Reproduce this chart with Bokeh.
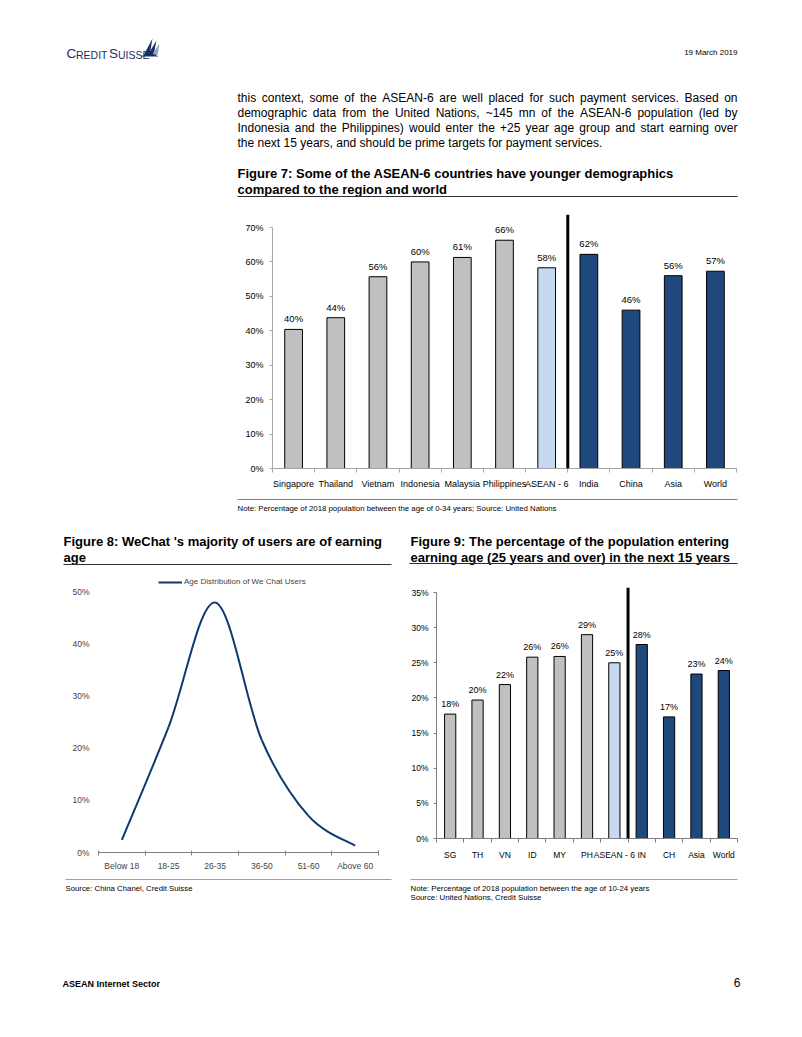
from bokeh.plotting import figure
from bokeh.models import (Range1d, FixedTicker, ColumnDataSource, NumeralTickFormatter,
                          Span, Legend, LegendItem)
from bokeh.layouts import column, row
from bokeh.embed import file_html
from bokeh.resources import INLINE
from bokeh.core.properties import value

# ---------------- data ----------------
fig7_categories = ["Singapore", "Thailand", "Vietnam", "Indonesia", "Malaysia", "Philippines",
                   "ASEAN - 6", "India", "China", "Asia", "World"]
fig7_values = [0.404, 0.438, 0.557, 0.600, 0.613, 0.663, 0.583, 0.622, 0.460, 0.560, 0.573]
fig7_groups = ["asean"] * 6 + ["asean6"] + ["other"] * 4
fig7_yticks = [0.0, 0.1, 0.2, 0.3, 0.4, 0.5, 0.6, 0.7]

fig8_categories = ["Below 18", "18-25", "26-35", "36-50", "51-60", "Above 60"]
fig8_values = [0.024, 0.240, 0.479, 0.215, 0.070, 0.013]
fig8_yticks = [0.0, 0.1, 0.2, 0.3, 0.4, 0.5]
fig8_series = "Age Distribution of We Chat Users"

fig9_categories = ["SG", "TH", "VN", "ID", "MY", "PH", "ASEAN - 6", "IN", "CH", "Asia", "World"]
fig9_values = [0.177, 0.197, 0.219, 0.258, 0.259, 0.290, 0.250, 0.276, 0.173, 0.234, 0.239]
fig9_groups = ["asean"] * 6 + ["asean6"] + ["other"] * 4
fig9_yticks = [0.0, 0.05, 0.10, 0.15, 0.20, 0.25, 0.30, 0.35]

paragraph = [
    "this context, some of the ASEAN-6 are well placed for such payment services. Based on",
    "demographic data from the United Nations, ~145 mn of the ASEAN-6 population (led by",
    "Indonesia and the Philippines) would enter the +25 year age group and start earning over",
    "the next 15 years, and should be prime targets for payment services.",
]
fig7_title = ["Figure 7: Some of the ASEAN-6 countries have younger demographics",
              "compared to the region and world"]
fig7_note = "Note: Percentage of 2018 population between the age of 0-34 years; Source: United Nations"
fig8_title = ["Figure 8: WeChat 's majority of users are of earning", "age"]
fig8_note = "Source: China Chanel, Credit Suisse"
fig9_title = ["Figure 9: The percentage of the population entering",
              "earning age (25 years and over) in the next 15 years"]
fig9_note = ["Note: Percentage of 2018 population between the age of 10-24 years",
             "Source: United Nations, Credit Suisse"]

# ---------------- style ----------------
FONT = "Liberation Sans"
GROUP_COLORS = {"asean": "#C0C0C0", "asean6": "#C6D9F1", "other": "#1F497D"}
LINE_NAVY = "#0E3A6C"
LOGO_NAVY = "#1B2F5E"
PAGE_W = 786

# Arial / Liberation Sans advance widths (1/1000 em) used for justifying the paragraph
_W = {' ': 278, '!': 278, '"': 355, '#': 556, '$': 556, '%': 889, '&': 667, "'": 191, '(': 333,
      ')': 333, '*': 389, '+': 584, ',': 278, '-': 333, '.': 278, '/': 278, ':': 278, ';': 278,
      '?': 556, '~': 584, 'A': 667, 'B': 667, 'C': 722, 'D': 722, 'E': 667, 'F': 611, 'G': 778,
      'H': 722, 'I': 278, 'J': 500, 'K': 667, 'L': 556, 'M': 833, 'N': 722, 'O': 778, 'P': 667,
      'Q': 778, 'R': 722, 'S': 667, 'T': 611, 'U': 722, 'V': 667, 'W': 944, 'X': 667, 'Y': 667,
      'Z': 611, 'a': 556, 'b': 556, 'c': 500, 'd': 556, 'e': 556, 'f': 278, 'g': 556, 'h': 556,
      'i': 222, 'j': 222, 'k': 500, 'l': 222, 'm': 833, 'n': 556, 'o': 556, 'p': 556, 'q': 556,
      'r': 333, 's': 500, 't': 278, 'u': 556, 'v': 500, 'w': 722, 'x': 500, 'y': 500, 'z': 500}


def text_width(s, size):
    return sum(_W.get(ch, 556) for ch in s) / 1000.0 * size


def page_panel(y0, y1):
    p = figure(width=PAGE_W, height=y1 - y0, x_range=Range1d(0, PAGE_W),
               y_range=Range1d(y1, y0), x_axis_location=None, y_axis_location=None,
               toolbar_location=None, output_backend="svg", min_border=0)
    p.grid.visible = False
    p.outline_line_color = None
    return p


def txt(p, x, y, s, size, bold=False, align="left", color="black", font=FONT):
    p.text(x=[x], y=[y], text=[s], text_font=value(font), text_font_size=f"{size}px",
           text_font_style="bold" if bold else "normal", text_align=align,
           text_baseline="middle", text_color=color)


def justified(p, x0, x1, y, s, size):
    words = s.split(" ")
    widths = [text_width(w, size) for w in words]
    gap = (x1 - x0 - sum(widths)) / (len(words) - 1)
    xs, x = [], x0
    for w in widths:
        xs.append(x)
        x += w + gap
    p.text(x=xs, y=[y] * len(words), text=words, text_font=value(FONT),
           text_font_size=f"{size}px", text_align="left", text_baseline="middle",
           text_color="black")


def hline(p, x0, x1, y, color="#404040", width=1.0):
    p.segment(x0=[x0], y0=[y], x1=[x1], y1=[y], line_color=color, line_width=width)


def pct_labels(vals):
    return [f"{round(v * 100)}%" for v in vals]


# ---------------- row A: header + paragraph + fig7 title ----------------
A0, A1 = 0, 205
pA = page_panel(A0, A1)
txt(pA, 66, 53, "C", 13.5, color=LOGO_NAVY)
txt(pA, 75.5, 54, "REDIT", 10.5, color=LOGO_NAVY)
txt(pA, 108.5, 53, "S", 13.5, color=LOGO_NAVY)
txt(pA, 117.5, 54, "UISSE", 10.5, color=LOGO_NAVY)
pA.patches(xs=[[143, 152, 149], [147, 156, 153], [151, 159, 157], [140, 158, 150]],
           ys=[[55, 38, 55], [55, 40, 55], [55, 43, 55], [56, 56, 52]],
           fill_color=[LOGO_NAVY, LOGO_NAVY, "#8FA6C9", LOGO_NAVY], line_color=None)
txt(pA, 737, 52, "19 March 2019", 8, align="right")
PARA_SIZE = 12
for i, line in enumerate(paragraph):
    if i < len(paragraph) - 1:
        justified(pA, 237, 737, 97 + 15 * i, line, PARA_SIZE)
    else:
        txt(pA, 237, 97 + 15 * i, line, PARA_SIZE)
for i, line in enumerate(fig7_title):
    txt(pA, 237, 173 + 16 * i, line, 13, bold=True)
hline(pA, 237, 737, 196, color="#303030", width=1.2)


# ---------------- bar chart helper ----------------
def bar_chart(cats, vals, groups, yticks, width, height, borders, y_top_px, y_max_px, y_zero_px,
              font_size, label_size, axis_color, bar_width, divider_after, std_x, std_y):
    left, right, top, bottom = borders
    n = len(cats)
    centers = [i + 0.5 for i in range(n)]
    y_end = yticks[-1] * (y_zero_px - y_top_px) / (y_zero_px - y_max_px)
    p = figure(width=width, height=height, x_range=Range1d(0, n), y_range=Range1d(0, y_end),
               toolbar_location=None, output_backend="svg",
               min_border_left=left, min_border_right=right,
               min_border_top=top, min_border_bottom=bottom)
    p.grid.visible = False
    p.outline_line_color = None
    src = ColumnDataSource(dict(x=centers, top=vals, color=[GROUP_COLORS[g] for g in groups],
                                label=pct_labels(vals)))
    p.vbar(x="x", top="top", width=bar_width, fill_color="color", line_color="black",
           line_width=1, source=src)
    p.text(x="x", y="top", text="label", source=src, text_align="center",
           text_baseline="bottom", y_offset=-5, text_font=value(FONT),
           text_font_size=f"{label_size}px", text_color="black")
    p.add_layout(Span(location=cats.index(divider_after) + 1, dimension="height",
                      line_color="black", line_width=3))
    xa = p.xaxis[0]
    xa.ticker = FixedTicker(ticks=centers, minor_ticks=list(range(n + 1)))
    xa.major_label_overrides = {c: name for c, name in zip(centers, cats)}
    xa.major_tick_line_color = None
    xa.major_tick_out = 0
    xa.major_tick_in = 0
    xa.minor_tick_out = 4
    xa.minor_tick_in = 0
    xa.minor_tick_line_color = axis_color
    xa.axis_line_color = axis_color
    xa.major_label_standoff = std_x
    xa.major_label_text_font = FONT
    xa.major_label_text_font_size = f"{font_size}px"
    xa.major_label_text_color = "black"
    ya = p.yaxis[0]
    ya.ticker = FixedTicker(ticks=yticks, minor_ticks=[])
    ya.formatter = NumeralTickFormatter(format="0%")
    ya.bounds = (0, yticks[-1])
    ya.axis_line_color = axis_color
    ya.major_tick_line_color = axis_color
    ya.major_tick_out = 3
    ya.major_tick_in = 0
    ya.major_label_standoff = std_y
    ya.major_label_text_font = FONT
    ya.major_label_text_font_size = f"{font_size}px"
    ya.major_label_text_color = "black"
    return p


# ---------------- row B: figure 7 ----------------
B0, B1 = A1, 493
f7_left, f7_right, f7_top, f7_bottom, f7_max = 272, 736, 214, 468, 227
p7 = bar_chart(fig7_categories, fig7_values, fig7_groups, fig7_yticks, PAGE_W, B1 - B0,
               (f7_left, PAGE_W - f7_right, f7_top - B0, B1 - f7_bottom),
               f7_top, f7_max, f7_bottom, 9, 9.5, "#A6A6A6", 0.42, "ASEAN - 6", 6, 6)

# ---------------- row C: fig7 note + fig8/9 titles ----------------
C0, C1 = B1, 570
pC = page_panel(C0, C1)
hline(pC, 237, 737, 499, color="#7F7F7F", width=1)
txt(pC, 237, 507.5, fig7_note, 7.8)
for i, line in enumerate(fig8_title):
    txt(pC, 63, 541 + 15.5 * i, line, 13, bold=True)
for i, line in enumerate(fig9_title):
    txt(pC, 410, 541 + 15.5 * i, line, 13, bold=True)
hline(pC, 63, 391, 564, color="#303030", width=1.2)
hline(pC, 409, 737, 563, color="#303030", width=1.2)

# ---------------- row D: figures 8 and 9 ----------------
D0, D1 = C1, 875
W8 = 400
f8_left, f8_right, f8_top, f8_bottom, f8_max = 98, 378, 572, 852, 591
n8 = len(fig8_categories)
c8 = [i + 0.5 for i in range(n8)]
p8 = figure(width=W8, height=D1 - D0, x_range=Range1d(0, n8),
            y_range=Range1d(0, fig8_yticks[-1] * (f8_bottom - f8_top) / (f8_bottom - f8_max)),
            toolbar_location=None, output_backend="svg",
            min_border_left=f8_left, min_border_right=W8 - f8_right,
            min_border_top=f8_top - D0, min_border_bottom=D1 - f8_bottom)
p8.grid.visible = False
p8.outline_line_color = None
# smoothed line (Excel style): cubic Bezier segments through the data points
pts = list(zip(c8, fig8_values))
seg = dict(x0=[], y0=[], x1=[], y1=[], cx0=[], cy0=[], cx1=[], cy1=[])
for i in range(len(pts) - 1):
    q0 = pts[max(i - 1, 0)]
    q1 = pts[i]
    q2 = pts[i + 1]
    q3 = pts[min(i + 2, len(pts) - 1)]
    seg["x0"].append(q1[0]); seg["y0"].append(q1[1])
    seg["x1"].append(q2[0]); seg["y1"].append(q2[1])
    seg["cx0"].append(q1[0] + (q2[0] - q0[0]) / 6); seg["cy0"].append(q1[1] + (q2[1] - q0[1]) / 6)
    seg["cx1"].append(q2[0] - (q3[0] - q1[0]) / 6); seg["cy1"].append(q2[1] - (q3[1] - q1[1]) / 6)
r8 = p8.bezier(x0="x0", y0="y0", x1="x1", y1="y1", cx0="cx0", cy0="cy0", cx1="cx1", cy1="cy1",
               source=ColumnDataSource(seg), line_color=LINE_NAVY, line_width=2)
leg = Legend(items=[LegendItem(label=fig8_series, renderers=[r8])], location=(60, 266),
             padding=0, margin=0, spacing=0, border_line_color=None, background_fill_alpha=0,
             glyph_width=24, glyph_height=8, label_standoff=2, label_height=8,
             label_text_font=FONT, label_text_font_size="8px")
p8.add_layout(leg)
xa = p8.xaxis[0]
xa.ticker = FixedTicker(ticks=c8, minor_ticks=list(range(n8 + 1)))
xa.major_label_overrides = {c: name for c, name in zip(c8, fig8_categories)}
xa.major_tick_line_color = None
xa.major_tick_out = 0
xa.major_tick_in = 0
xa.minor_tick_out = 3
xa.minor_tick_in = 2
xa.minor_tick_line_color = "#808080"
xa.axis_line_color = "#808080"
xa.major_label_standoff = 5
xa.major_label_text_font = FONT
xa.major_label_text_font_size = "8.5px"
ya = p8.yaxis[0]
ya.ticker = FixedTicker(ticks=fig8_yticks, minor_ticks=[])
ya.formatter = NumeralTickFormatter(format="0%")
ya.axis_line_color = None
ya.major_tick_line_color = None
ya.major_tick_out = 0
ya.major_tick_in = 0
ya.major_label_standoff = 9
ya.major_label_text_font = FONT
ya.major_label_text_font_size = "8.5px"

W9 = PAGE_W - W8
f9_left, f9_right, f9_top, f9_bottom, f9_max = 436, 737, 587, 838, 592
p9 = bar_chart(fig9_categories, fig9_values, fig9_groups, fig9_yticks, W9, D1 - D0,
               (f9_left - W8, PAGE_W - f9_right, f9_top - D0, D1 - f9_bottom),
               f9_top, f9_max, f9_bottom, 8.5, 9, "#7F7F7F", 0.41, "ASEAN - 6", 7, 5)

# ---------------- row E: notes + footer ----------------
E0, E1 = D1, 1021
pE = page_panel(E0, E1)
hline(pE, 65, 391, 879, color="#A0A0A0", width=1)
hline(pE, 410, 737, 879, color="#A0A0A0", width=1)
txt(pE, 65, 888, fig8_note, 7.8)
txt(pE, 410, 888, fig9_note[0], 7.8)
txt(pE, 410, 897, fig9_note[1], 7.8)
txt(pE, 62, 983, "ASEAN Internet Sector", 9, bold=True)
txt(pE, 740, 982, "6", 12, align="right")

# each plot wrapped in its own box so that frames are not aligned across rows
layout = column(row(pA), row(p7), row(pC),
                row(column(p8), column(p9), spacing=0), row(pE), spacing=0)
open("out.html", "w").write(file_html(layout, INLINE))
